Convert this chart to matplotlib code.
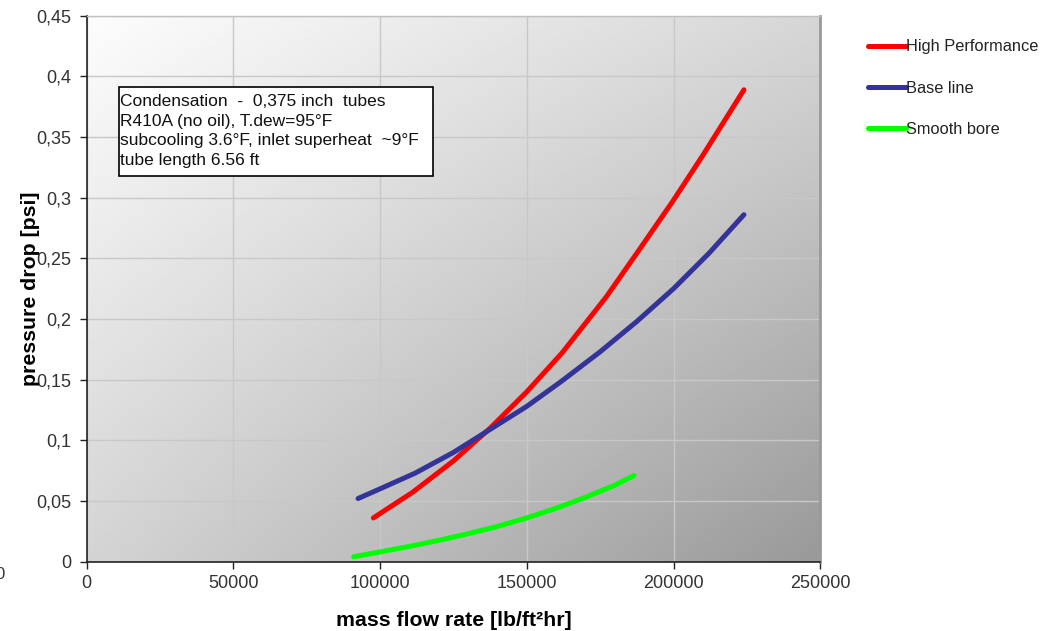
import numpy as np
import matplotlib
matplotlib.use("Agg")
import matplotlib.pyplot as plt
from matplotlib.patches import Rectangle
from matplotlib.ticker import FuncFormatter

plt.rcParams['font.family'] = ['Liberation Sans', 'DejaVu Sans']

# data
hp_x = [97700, 111000, 125000, 137500, 150000, 162000, 177000, 188000, 200000, 210000, 224000]
hp_y = [0.036, 0.057, 0.083, 0.110, 0.140, 0.172, 0.218, 0.256, 0.298, 0.335, 0.389]

base_x = [92500, 100000, 112000, 125000, 137500, 150000, 162000, 175000, 187500, 200000, 212000, 224000]
base_y = [0.052, 0.060, 0.073, 0.090, 0.109, 0.128, 0.149, 0.173, 0.198, 0.225, 0.254, 0.286]

smooth_x = [91000, 100000, 110000, 120000, 130000, 140000, 150000, 160000, 170000, 180000, 186500]
smooth_y = [0.004, 0.008, 0.0125, 0.0175, 0.023, 0.029, 0.036, 0.044, 0.053, 0.063, 0.071]

series_names = ["High Performance", "Base line", "Smooth bore"]
x_ticks = [0, 50000, 100000, 150000, 200000, 250000]
y_ticks = [0, 0.05, 0.1, 0.15, 0.2, 0.25, 0.3, 0.35, 0.4, 0.45]

note = ("Condensation  -  0,375 inch  tubes\n"
        "R410A (no oil), T.dew=95°F\n"
        "subcooling 3.6°F, inlet superheat  ~9°F\n"
        "tube length 6.56 ft")

fig = plt.figure(figsize=(10.57, 6.31), dpi=100)
ax = fig.add_axes([0.082, 0.110, 0.694, 0.865])

# grey gradient background of the plot area
gx, gy = np.meshgrid(np.linspace(0, 1, 300), np.linspace(0, 1, 200))
shade = 0.99 - 0.15 * gx - 0.16 * gy - 0.08 * gx * gy
ax.imshow(shade, cmap='gray', vmin=0, vmax=1, extent=[0, 1, 0, 1],
          transform=ax.transAxes, aspect='auto', zorder=0, interpolation='bilinear')

ax.plot(hp_x, hp_y, color='#ff0000', lw=3.6, solid_capstyle='round', solid_joinstyle='round',
        label=series_names[0], zorder=3)
ax.plot(base_x, base_y, color='#333399', lw=3.6, solid_capstyle='round', solid_joinstyle='round',
        label=series_names[1], zorder=3)
ax.plot(smooth_x, smooth_y, color='#00ff00', lw=3.6, solid_capstyle='round', solid_joinstyle='round',
        label=series_names[2], zorder=3)

ax.set_xlim(0, 250000)
ax.set_ylim(0, 0.45)
ax.set_xticks(x_ticks)
ax.set_yticks(y_ticks)
ax.yaxis.set_major_formatter(FuncFormatter(lambda v, p: ('%g' % round(v, 2)).replace('.', ',')))
ax.xaxis.set_major_formatter(FuncFormatter(lambda v, p: '%d' % v))
ax.tick_params(direction='out', length=5, width=1, labelsize=13, colors='#222222', labelcolor='#333333')
ax.tick_params(axis='x', pad=5)
ax.tick_params(axis='y', pad=6)

ax.set_axisbelow(True)
ax.grid(True, color='#c8c8c8', lw=1)

for s in ['left', 'bottom']:
    ax.spines[s].set_color('#222222')
    ax.spines[s].set_linewidth(1.2)
ax.spines['top'].set_color('#c0c0c0')
ax.spines['top'].set_linewidth(1)
ax.spines['right'].set_color('#999999')
ax.spines['right'].set_linewidth(2)

ax.set_ylabel("pressure drop [psi]", fontsize=15.3, fontweight='bold')
ax.yaxis.set_label_coords(-0.064, 0.5)
ax.set_xlabel("mass flow rate [lb/ft²hr]", fontsize=15.3, fontweight='bold')
ax.xaxis.set_label_coords(0.5, -0.091)

# annotation box
ax.add_patch(Rectangle((0.044, 0.707), 0.428, 0.163, transform=ax.transAxes,
                       facecolor='white', edgecolor='black', lw=1.2, zorder=4))
ax.text(0.046, 0.856, note, transform=ax.transAxes, ha='left', va='top',
        fontsize=12.5, linespacing=1.37, color='#111111', zorder=5)

leg = ax.legend(loc='upper left', bbox_to_anchor=(0.815, 0.948), bbox_transform=fig.transFigure,
                frameon=False, fontsize=11.8, handlelength=2.3, handletextpad=0.0,
                labelspacing=1.6, borderaxespad=0)
for t in leg.get_texts():
    t.set_color('#222222')

# clipped leftover tick label at the left edge
fig.text(0.0, 0.089, "0", ha='center', va='center', fontsize=12, color='#333333')

fig.savefig("out.png", dpi=100)
